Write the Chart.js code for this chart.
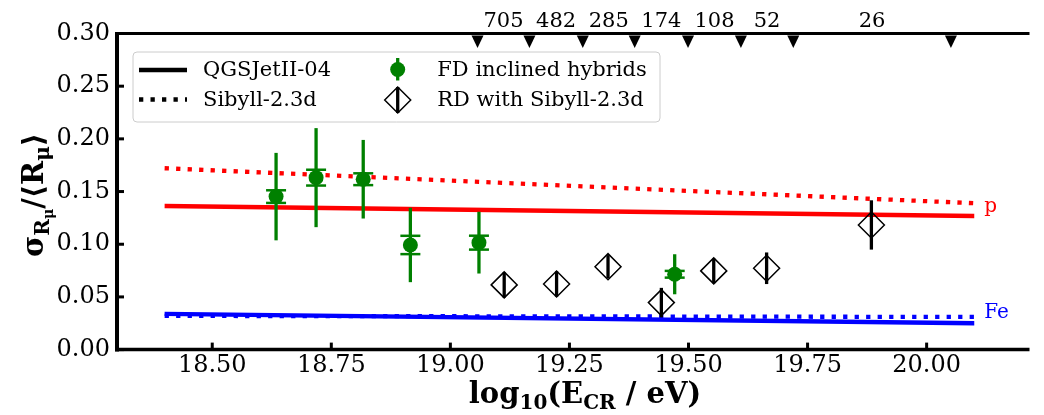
<!DOCTYPE html>
<html>
<head>
<meta charset="utf-8">
<script src="https://cdn.jsdelivr.net/npm/chart.js@4/dist/chart.umd.min.js"></script>
<style>
  html, body { margin: 0; padding: 0; background: #fff; overflow: hidden; }
</style>
</head>
<body>
<canvas id="chart" width="1044" height="415"></canvas>
<script>
// model predictions, solid = QGSJetII-04, dotted = Sibyll-2.3d
const modelX = [18.4, 20.1];
const pQgs = [0.1363, 0.1268];
const pSib = [0.1721, 0.1389];
const feQgs = [0.0339, 0.0250];
const feSib = [0.0320, 0.0310];

// FD inclined hybrids (stat error bars + sys caps)
const fdX = [18.634, 18.718, 18.817, 18.916, 19.060, 19.471];
const fdY = [0.1452, 0.1632, 0.1617, 0.0993, 0.1015, 0.0715];
const fdStat = [0.0415, 0.047, 0.0373, 0.0353, 0.0293, 0.019];
const fdSys = [0.006, 0.0075, 0.0056, 0.0087, 0.0066, 0.0032];

// RD with Sibyll-2.3d
const rdX = [19.113, 19.223, 19.331, 19.443, 19.553, 19.664, 19.884];
const rdY = [0.0614, 0.0623, 0.0787, 0.0446, 0.0747, 0.0772, 0.1183];
const rdErr = [0.012, 0.012, 0.011, 0.014, 0.0117, 0.015, 0.0234];

// top axis: energy bin edges and events per bin
const binEdges = [19.057, 19.166, 19.278, 19.387, 19.499, 19.610, 19.720, 20.051];
const binCounts = [705, 482, 285, 174, 108, 52, 26];

const xTicks = [18.5, 18.75, 19.0, 19.25, 19.5, 19.75, 20.0];
const yTicks = [0, 0.05, 0.10, 0.15, 0.20, 0.25, 0.30];

const serif = "'DejaVu Serif', serif";
const toPts = (xs, ys) => xs.map((x, i) => ({ x: x, y: ys[i] }));

const errors = {
    fd: { err: fdStat, sys: fdSys, color: '#008000', width: 3.3 },
    rd: { err: rdErr, sys: null, color: '#000000', width: 3.3 }
};

function lineSet(label, ys, color, dotted) {
    return {
        label: label,
        data: toPts(modelX, ys),
        showLine: true,
        borderColor: color,
        borderWidth: 4.3,
        borderDash: dotted ? [4.3, 7.2] : [],
        borderCapStyle: 'butt',
        pointRadius: 0,
        fill: false,
        order: 10
    };
}

// rich text (sub-scripts) helper: parts = [text, size, baselineShift]
function drawRich(ctx, parts, x, y) {
    let total = 0;
    parts.forEach(p => {
        ctx.font = 'bold ' + p[1] + 'px ' + serif;
        total += ctx.measureText(p[0]).width;
    });
    let cx = x - total / 2;
    parts.forEach(p => {
        ctx.font = 'bold ' + p[1] + 'px ' + serif;
        ctx.fillText(p[0], cx, y + p[2]);
        cx += ctx.measureText(p[0]).width;
    });
}

const errorBars = {
    id: 'errorBars',
    beforeDatasetDraw(chart, args) {
        const ds = chart.data.datasets[args.index];
        const e = errors[ds.key];
        if (!e) return;
        const { ctx, scales: { x, y } } = chart;
        ctx.save();
        ctx.strokeStyle = e.color;
        ctx.lineCap = 'butt';
        ds.data.forEach((p, i) => {
            const px = x.getPixelForValue(p.x);
            ctx.lineWidth = e.width;
            ctx.beginPath();
            ctx.moveTo(px, y.getPixelForValue(p.y - e.err[i]));
            ctx.lineTo(px, y.getPixelForValue(p.y + e.err[i]));
            ctx.stroke();
            if (e.sys) {
                ctx.lineWidth = 2.5;
                [p.y - e.sys[i], p.y + e.sys[i]].forEach(v => {
                    const py = y.getPixelForValue(v);
                    ctx.beginPath();
                    ctx.moveTo(px - 10, py);
                    ctx.lineTo(px + 10, py);
                    ctx.stroke();
                });
            }
        });
        ctx.restore();
    }
};

const decorations = {
    id: 'decorations',
    afterDraw(chart) {
        const { ctx, chartArea: a, scales: { x, y } } = chart;
        ctx.save();
        ctx.strokeStyle = '#000';
        ctx.fillStyle = '#000';

        // inward ticks
        ctx.lineWidth = 3;
        xTicks.forEach(v => {
            const px = x.getPixelForValue(v);
            ctx.beginPath(); ctx.moveTo(px, a.bottom); ctx.lineTo(px, a.bottom - 7); ctx.stroke();
        });
        yTicks.forEach(v => {
            const py = y.getPixelForValue(v);
            ctx.beginPath(); ctx.moveTo(a.left, py); ctx.lineTo(a.left + 7, py); ctx.stroke();
        });

        // spines
        ctx.lineWidth = 4;
        ctx.beginPath(); ctx.moveTo(a.left, a.top - 1.5); ctx.lineTo(a.left, a.bottom + 2); ctx.stroke();
        ctx.lineWidth = 3.5;
        ctx.beginPath(); ctx.moveTo(a.left - 2, a.bottom); ctx.lineTo(a.right, a.bottom); ctx.stroke();
        ctx.lineWidth = 3;
        ctx.beginPath(); ctx.moveTo(a.left - 2, a.top); ctx.lineTo(a.right, a.top); ctx.stroke();

        // top axis: bin edges as triangles, event counts at bin centres
        binEdges.forEach(v => {
            const px = x.getPixelForValue(v);
            ctx.beginPath();
            ctx.moveTo(px - 6, a.top + 2);
            ctx.lineTo(px + 6, a.top + 2);
            ctx.lineTo(px, a.top + 14.5);
            ctx.closePath();
            ctx.fill();
        });
        ctx.font = '21px ' + serif;
        ctx.textAlign = 'center';
        ctx.textBaseline = 'alphabetic';
        binCounts.forEach((n, i) => {
            const px = (x.getPixelForValue(binEdges[i]) + x.getPixelForValue(binEdges[i + 1])) / 2;
            ctx.fillText(String(n), px, 26.5);
        });

        // composition labels
        ctx.font = '20px ' + serif;
        ctx.textAlign = 'left';
        ctx.fillStyle = '#ff0000';
        ctx.fillText('p', x.getPixelForValue(20.121), y.getPixelForValue(0.1308));
        ctx.fillStyle = '#0000ff';
        ctx.fillText('Fe', x.getPixelForValue(20.121), y.getPixelForValue(0.0297));

        // legend
        const lx = 133, ly = 52, lw = 527, lh = 70;
        ctx.fillStyle = 'rgba(255,255,255,0.8)';
        ctx.strokeStyle = '#cccccc';
        ctx.lineWidth = 1;
        ctx.beginPath();
        ctx.roundRect(lx, ly, lw, lh, 4);
        ctx.fill();
        ctx.stroke();

        ctx.strokeStyle = '#000';
        ctx.lineWidth = 4.3;
        ctx.lineCap = 'butt';
        ctx.beginPath(); ctx.moveTo(139, 70); ctx.lineTo(187, 70); ctx.stroke();
        ctx.setLineDash([4.3, 7.2]);
        ctx.beginPath(); ctx.moveTo(139, 99.5); ctx.lineTo(187, 99.5); ctx.stroke();
        ctx.setLineDash([]);

        // FD marker
        ctx.strokeStyle = '#008000';
        ctx.fillStyle = '#008000';
        ctx.lineWidth = 3.3;
        ctx.beginPath(); ctx.moveTo(397.7, 58); ctx.lineTo(397.7, 80.5); ctx.stroke();
        ctx.beginPath(); ctx.arc(397.7, 69.5, 7.5, 0, Math.PI * 2); ctx.fill();
        // RD marker
        ctx.strokeStyle = '#000';
        ctx.beginPath(); ctx.moveTo(397.7, 87); ctx.lineTo(397.7, 113); ctx.stroke();
        ctx.lineWidth = 1.5;
        ctx.beginPath();
        ctx.moveTo(384.7, 100); ctx.lineTo(397.7, 87); ctx.lineTo(410.7, 100); ctx.lineTo(397.7, 113);
        ctx.closePath(); ctx.stroke();

        ctx.fillStyle = '#000';
        ctx.font = '21px ' + serif;
        ctx.textBaseline = 'middle';
        ctx.fillText('QGSJetII-04', 203, 71);
        ctx.fillText('Sibyll-2.3d', 203, 100.5);
        ctx.fillText('FD inclined hybrids', 437.3, 71);
        ctx.fillText('RD with Sibyll-2.3d', 437.3, 100.5);

        // axis titles
        ctx.textBaseline = 'alphabetic';
        ctx.textAlign = 'left';
        drawRich(ctx, [['log', 29, 0], ['10', 20, 6], ['(E', 29, 0], ['CR', 20, 6], [' / eV)', 29, 0]],
            585, 403);
        ctx.translate(43, 195);
        ctx.rotate(-Math.PI / 2);
        drawRich(ctx, [['σ', 29, 0], ['R', 20, 6], ['μ', 14, 10], ['/', 29, 0], ['⟨', 29, 0],
            ['R', 29, 0], ['μ', 20, 6], ['⟩', 29, 0]], 0, 0);
        ctx.restore();
    }
};

new Chart(document.getElementById('chart'), {
    type: 'scatter',
    data: {
        datasets: [
            lineSet('p QGSJetII-04', pQgs, '#ff0000', false),
            lineSet('p Sibyll-2.3d', pSib, '#ff0000', true),
            lineSet('Fe QGSJetII-04', feQgs, '#0000ff', false),
            lineSet('Fe Sibyll-2.3d', feSib, '#0000ff', true),
            {
                key: 'rd',
                label: 'RD with Sibyll-2.3d',
                data: toPts(rdX, rdY),
                pointStyle: 'rectRot',
                pointRadius: 13,
                borderColor: '#000',
                borderWidth: 1.5,
                backgroundColor: 'rgba(0,0,0,0)',
                order: 2
            },
            {
                key: 'fd',
                label: 'FD inclined hybrids',
                data: toPts(fdX, fdY),
                pointStyle: 'circle',
                pointRadius: 7.5,
                borderWidth: 0,
                backgroundColor: '#008000',
                order: 1
            }
        ]
    },
    options: {
        responsive: false,
        animation: false,
        devicePixelRatio: 1,
        layout: { padding: { top: 33.5, right: 0, left: 0, bottom: 0 } },
        plugins: { legend: { display: false }, tooltip: { enabled: false } },
        scales: {
            x: {
                type: 'linear',
                min: 18.3,
                max: 20.216,
                afterBuildTicks: s => { s.ticks = xTicks.map(v => ({ value: v })); },
                afterFit: s => { s.height = 65.4; },
                grid: { display: false, drawTicks: false },
                border: { display: false },
                ticks: {
                    font: { family: serif, size: 24 },
                    color: '#000',
                    padding: 2,
                    maxRotation: 0,
                    callback: v => v.toFixed(2)
                }
            },
            y: {
                min: 0,
                max: 0.3,
                afterBuildTicks: s => { s.ticks = yTicks.map(v => ({ value: v })); },
                afterFit: s => { s.width = 117; },
                grid: { display: false, drawTicks: false },
                border: { display: false },
                ticks: {
                    font: { family: serif, size: 24 },
                    color: '#000',
                    padding: 7,
                    callback: v => v.toFixed(2)
                }
            }
        }
    },
    plugins: [errorBars, decorations]
});
</script>
</body>
</html>
